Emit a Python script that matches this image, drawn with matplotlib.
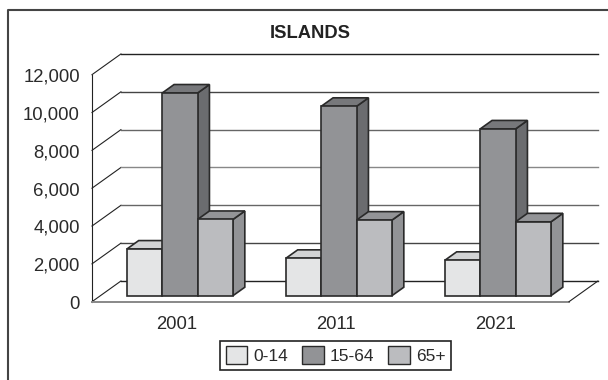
import matplotlib
matplotlib.use("Agg")
import matplotlib.pyplot as plt
from matplotlib.patches import Patch, Polygon

# data
years = ["2001", "2011", "2021"]
age_groups = ["0-14", "15-64", "65+"]
values_0_14 = [2465, 1975, 1870]
values_15_64 = [10713, 10010, 8815]
values_65_plus = [4030, 3995, 3905]
y_ticks = [0, 2000, 4000, 6000, 8000, 10000, 12000]

series = [values_0_14, values_15_64, values_65_plus]
front_colors = ["#e4e5e6", "#929396", "#bbbcbf"]
side_colors = ["#a9aaad", "#6b6c6f", "#929396"]
top_colors = ["#d2d3d4", "#77787b", "#939497"]
grid_colors = ["#222222", "#444444", "#666666", "#888888", "#666666", "#444444", "#222222"]

# fake 3d depth in data units
DEPTH_X = 0.182
DEPTH_Y = 1094
BAR_W = 0.2225
BAR_NEAR = 0.29
BAR_FAR = 0.70
EDGE = "#2a2a2a"

plt.rcParams["font.family"] = ["Liberation Sans", "DejaVu Sans"]

fig = plt.figure(figsize=(6.08, 3.8), dpi=100)
ax = fig.add_axes([0, 0, 1, 1])
# 159 px per category, 18.92 px per 1000
ax.set_xlim(-92 / 159, (608 - 92) / 159)
ax.set_ylim(-78.3 / 0.01892, 301.7 / 0.01892)
ax.axis("off")


def shift(x, y, d):
    return x + d * DEPTH_X, y + d * DEPTH_Y


# outer frame
x0 = -84.5 / 159
y_top = 291.7 / 0.01892
ax.plot([x0, x0, 4], [-5000, y_top, y_top], color="#444444", lw=1.5, clip_on=True)

# back wall and left wall lines
n = len(years)
for val, col in zip(y_ticks, grid_colors):
    bx, by = shift(0, val, 1)
    ax.plot([0, bx], [val, by], color="#222222", lw=0.8, zorder=1)
    ax.plot([bx, n + DEPTH_X], [by, by], color=col, lw=1.0, zorder=1)
ax.plot([0, 0], [0, y_ticks[-1]], color="#222222", lw=0.8, zorder=1)
# floor
ax.plot([0, n], [0, 0], color="#888888", lw=1.4, zorder=1)
ax.plot([n, n + DEPTH_X], [0, DEPTH_Y], color="#222222", lw=0.8, zorder=1)

# bars, left to right so they overlap the same way
for i in range(n):
    for j, vals in enumerate(series):
        left = i + 0.5 - 1.5 * BAR_W + j * BAR_W
        h = vals[i]
        x1, y1 = shift(left, 0, BAR_NEAR)
        x2 = x1 + BAR_W
        y2 = y1 + h
        dx = (BAR_FAR - BAR_NEAR) * DEPTH_X
        dy = (BAR_FAR - BAR_NEAR) * DEPTH_Y
        kw = dict(edgecolor=EDGE, lw=1.2, joinstyle="miter", zorder=2 + i + j * 0.1)
        ax.add_patch(Polygon([(x2, y1), (x2 + dx, y1 + dy), (x2 + dx, y2 + dy), (x2, y2)],
                             facecolor=side_colors[j], **kw))
        ax.add_patch(Polygon([(x1, y2), (x2, y2), (x2 + dx, y2 + dy), (x1 + dx, y2 + dy)],
                             facecolor=top_colors[j], **kw))
        ax.add_patch(Polygon([(x1, y1), (x2, y1), (x2, y2), (x1, y2)],
                             facecolor=front_colors[j], **kw))

# axis labels
for val in y_ticks:
    ax.text(-12 / 159, val - 130, f"{val:,}", ha="right", va="center", fontsize=13.3, color="#2a2a2a")
for i, year in enumerate(years):
    ax.text(i + 0.535, -1220, year, ha="center", va="center", fontsize=13.3, color="#2a2a2a")

ax.text(1.375, 14200, "ISLANDS", ha="center", va="center", fontsize=13.2,
        fontweight="bold", color="#222222")

handles = [Patch(facecolor=c, edgecolor=EDGE, lw=1.0) for c in front_colors]
leg = ax.legend(handles, age_groups, loc="center", ncol=3,
                bbox_to_anchor=(335.5 / 608, 1 - 355.3 / 380), fontsize=12.5,
                frameon=True, fancybox=False, edgecolor="#222222", framealpha=1,
                handlelength=1.25, handleheight=1.25, handletextpad=0.35,
                columnspacing=0.8, borderpad=0.32, borderaxespad=0)
leg.get_frame().set_linewidth(1.2)
leg.set_zorder(20)
for t in leg.get_texts():
    t.set_color("#2a2a2a")

fig.savefig("out.png", dpi=100, facecolor="white")
